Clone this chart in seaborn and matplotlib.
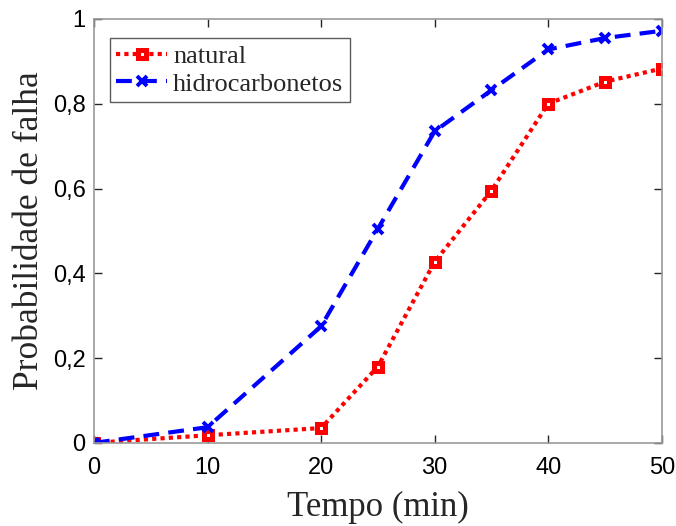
import matplotlib
matplotlib.use("Agg")
import matplotlib.pyplot as plt
import seaborn as sns
import pandas as pd

tempo = [0, 10, 20, 25, 30, 35, 40, 45, 50]
natural = [0.0, 0.018, 0.035, 0.180, 0.427, 0.595, 0.800, 0.852, 0.883]
hidrocarbonetos = [0.0, 0.037, 0.275, 0.505, 0.735, 0.832, 0.928, 0.955, 0.972]
x_ticks = [0, 10, 20, 30, 40, 50]
y_ticks = [0, 0.2, 0.4, 0.6, 0.8, 1.0]
y_tick_labels = ["0", "0,2", "0,4", "0,6", "0,8", "1"]

sns.set_theme(style="white")
plt.rcParams["font.family"] = ["Liberation Sans", "DejaVu Sans"]

df = pd.DataFrame({"tempo": tempo, "natural": natural, "hidrocarbonetos": hidrocarbonetos})

fig = plt.figure(figsize=(6.76, 5.26), dpi=100)
ax = fig.add_axes([0.139, 0.158, 0.840, 0.806])

sns.lineplot(data=df, x="tempo", y="natural", ax=ax, color="#ff0000", linewidth=3.0,
             linestyle=(0, (1, 1)), marker="s", markersize=5.8, markerfacecolor="white",
             markeredgecolor="#ff0000", markeredgewidth=3.6, label="natural")
sns.lineplot(data=df, x="tempo", y="hidrocarbonetos", ax=ax, color="#0000ff", linewidth=3.0,
             linestyle=(0, (3.8, 2.2)), marker="x", markersize=6.5, markeredgewidth=2.8,
             markeredgecolor="#0000ff", label="hidrocarbonetos")

ax.set_xlim(0, 50)
ax.set_ylim(0, 1)
ax.set_xticks(x_ticks)
ax.set_yticks(y_ticks)
ax.set_yticklabels(y_tick_labels)
ax.tick_params(axis="both", direction="in", length=6, width=1, colors="#262626", labelsize=17,
               top=True, right=True, bottom=True, left=True)
ax.tick_params(axis="x", pad=10)
ax.tick_params(axis="y", pad=6)
for lbl in ax.get_xticklabels() + ax.get_yticklabels():
    lbl.set_color("black")
for s in ax.spines.values():
    s.set_visible(True)
    s.set_color("#999999")
    s.set_linewidth(1.2)

serif = ["Liberation Serif", "DejaVu Serif"]
ax.set_xlabel("Tempo (min)", fontsize=25, family=serif, labelpad=9, color="#262626")
ax.set_ylabel("Probabilidade de falha", fontsize=25.5, family=serif, labelpad=5, color="#262626")

leg = ax.legend(loc="upper left", bbox_to_anchor=(0.028, 0.955), prop={"family": serif, "size": 19},
                frameon=True, fancybox=False, borderpad=0.25, handlelength=1.9,
                handletextpad=0.25, labelspacing=0.15, borderaxespad=0)
leg.get_frame().set_edgecolor("#333333")
leg.get_frame().set_linewidth(1.0)

fig.savefig("out.png", dpi=100)
